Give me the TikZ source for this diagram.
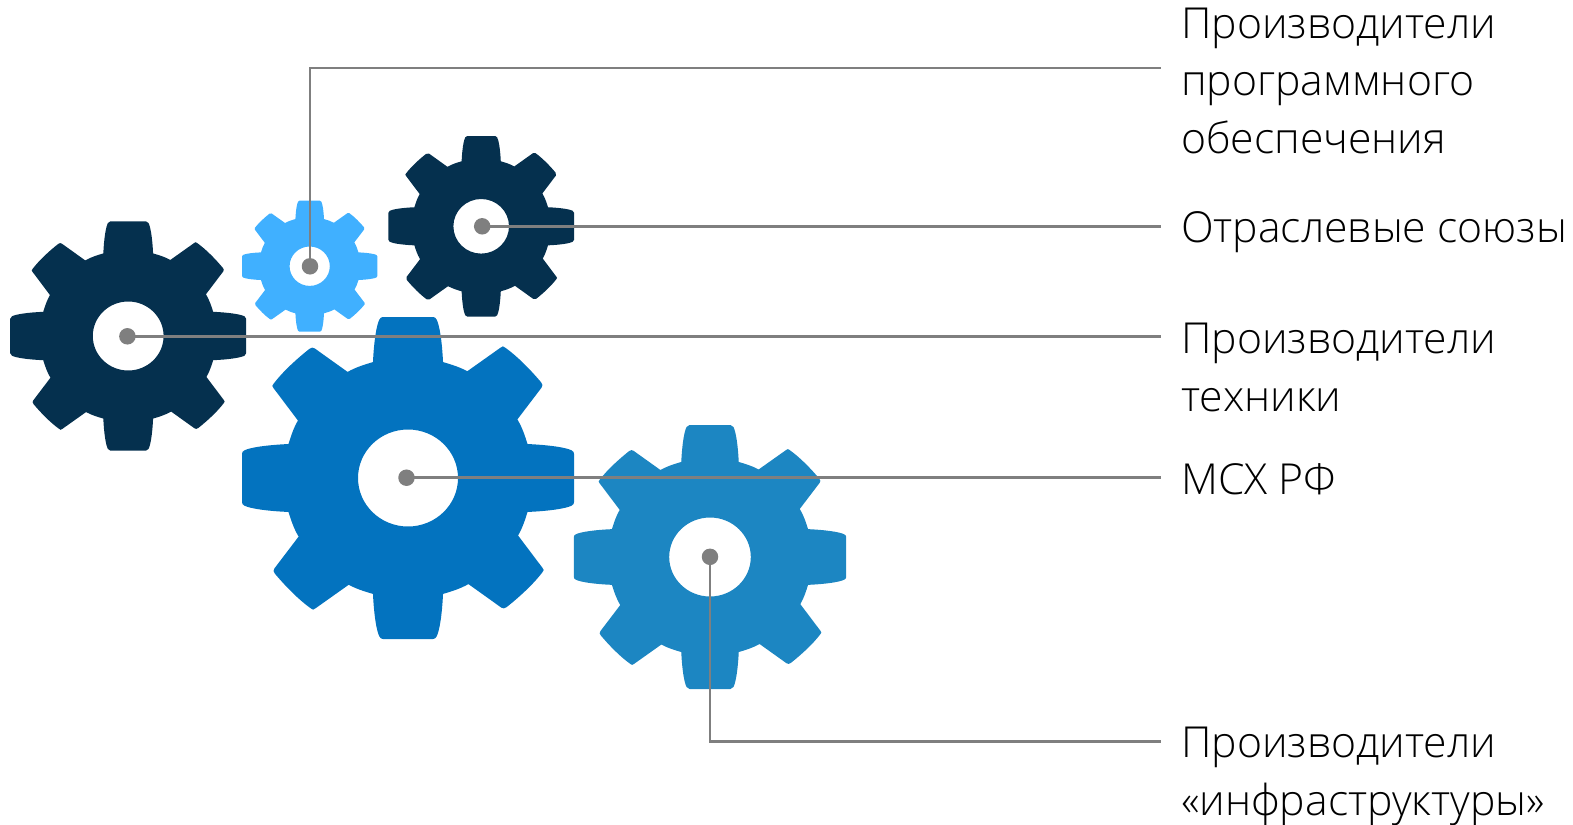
\documentclass[tikz,border=0pt]{standalone}
\usepackage{fontspec}
\setmainfont{Open Sans Light}
\definecolor{darkgear}{HTML}{05304E}
\definecolor{biggear}{HTML}{0373BF}
\definecolor{lightgear}{HTML}{40B0FF}
\definecolor{medgear}{HTML}{1C86C2}
\definecolor{leader}{HTML}{7F7F7F}
\tikzset{
  x=1pt,y=-1pt,
  leaderline/.style={draw=leader,line width=2.7pt},
  hub/.style={circle,fill=leader,draw=none,minimum size=16.5pt,inner sep=0pt},
  lbl/.style={anchor=west,align=left,inner sep=0pt,font=\fontsize{42.7}{57.5}\selectfont,text=black},
}
% #1 colour, #2 cx, #3 cy, #4 rx, #5 ry, #6 hole rx, #7 hole ry
\newcommand{\gearshape}[7]{%
  \begin{scope}[shift={(#2,#3)},xscale=#4,yscale=#5,x=1pt,y=1pt]
  \fill[#1,even odd rule]
    (-.211,.72)
    \foreach \a in {0,-90,-180,-270}{
      .. controls ([rotate=\a]-.205,.85) and ([rotate=\a]-.19,.95) .. ([rotate=\a]-.172,.985)
      .. controls ([rotate=\a]-.167,.995) and ([rotate=\a]-.16,1) .. ([rotate=\a]-.15,1)
      -- ([rotate=\a].15,1)
      .. controls ([rotate=\a].16,1) and ([rotate=\a].167,.995) .. ([rotate=\a].172,.985)
      .. controls ([rotate=\a].19,.95) and ([rotate=\a].205,.85) .. ([rotate=\a].211,.72)
      .. controls ([rotate=\a].26,.705) and ([rotate=\a].31,.69) .. ([rotate=\a].357,.663)
      -- ([rotate=\a].558,.81)
      .. controls ([rotate=\a].568,.82) and ([rotate=\a].576,.82) .. ([rotate=\a].585,.81)
      .. controls ([rotate=\a].66,.755) and ([rotate=\a].74,.67) .. ([rotate=\a].802,.594)
      .. controls ([rotate=\a].812,.582) and ([rotate=\a].812,.572) .. ([rotate=\a].805,.562)
      -- ([rotate=\a].659,.364)
      .. controls ([rotate=\a].69,.31) and ([rotate=\a].705,.26) .. ([rotate=\a].72,.211)
    } -- cycle
    (0,0) ellipse [x radius=#6/#4, y radius=#7/#5];
  \end{scope}}
\begin{document}
\begin{tikzpicture}
\useasboundingbox (0,0) rectangle (1573,824);
\gearshape{darkgear}{128.2}{336}{118}{114.7}{35.4}{34.5}
\gearshape{lightgear}{309.7}{266.2}{67.7}{65.5}{20.1}{19.7}
\gearshape{darkgear}{481.2}{226.3}{92.8}{90.3}{27.8}{27.3}
\gearshape{biggear}{408}{478}{166}{161}{50}{48.5}
\gearshape{medgear}{710}{557}{136.2}{132}{40.8}{39.5}
\node[hub] (h1) at (310,266.3) {};
\node[hub] (h2) at (482.2,226.3) {};
\node[hub] (h3) at (127.4,336.3) {};
\node[hub] (h4) at (406.5,477.7) {};
\node[hub] (h5) at (710,556.8) {};
\coordinate (e1) at (1161,68);
\coordinate (e2) at (1161,226.3);
\coordinate (e3) at (1161,336.3);
\coordinate (e4) at (1161,477.7);
\coordinate (e5) at (1161,741.7);
\draw[leaderline] (h1.center) |- (e1);
\draw[leaderline] (h2.center) -- (e2);
\draw[leaderline] (h3.center) -- (e3);
\draw[leaderline] (h4.center) -- (e4);
\draw[leaderline] (h5.center) |- (e5);
\node[lbl] (t1) at (1181,80.5) {Производители\\программного\\обеспечения};
\node[lbl] (t2) at (1181,232.5) {Отраслевые союзы};
\node[lbl] (t3) at (1181,367.5) {Производители\\техники};
\node[lbl] (t4) at (1181,479.5) {МСХ РФ};
\node[lbl] (t5) at (1181,776.5) {Производители\\«инфраструктуры»};
\end{tikzpicture}
\end{document}
